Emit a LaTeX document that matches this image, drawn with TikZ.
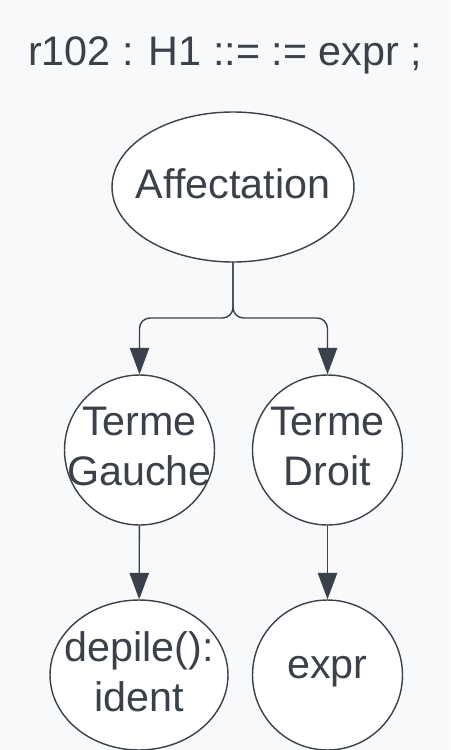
\documentclass[tikz,border=0pt]{standalone}
\usepackage{fontspec}
\setmainfont{Liberation Sans}
\usetikzlibrary{shapes.geometric,arrows.meta}
\definecolor{encre}{HTML}{3A414A}
\definecolor{fond}{HTML}{F8F9FB}
\begin{document}
\begin{tikzpicture}[x=0.02cm, y=-0.02cm, line join=round, line cap=round,
		>={Triangle[length=15pt,width=11pt]},
		every node/.style={text=encre, font=\fontsize{23.5}{28.5}\selectfont},
		texte/.style={align=center, inner sep=0pt, yshift=2pt},
		bulle/.style={circle, draw=encre, fill=white, line width=0.8pt, minimum size=3cm, inner sep=0pt, label={[texte]center:#1}},
		fleche/.style={->, draw=encre, line width=0.8pt}]
	\fill[fond] (0,0) rectangle (450,750);
	\useasboundingbox (0,0) rectangle (450,750);
	% titre de la regle
	\node[anchor=base] (titre) at (225,66) {r102 : H1 ::= := expr ;};
	% noeuds de l'arbre
	\node[bulle=Affectation, ellipse, minimum width=4.84cm, minimum height=3cm] (affect) at (233,187) {};
	\node[bulle={Terme\\Gauche}] (gauche) at (139.5,450) {};
	\node[bulle={Terme\\Droit}] (droit) at (327.5,450) {};
	\node[bulle={depile():\\ident}, ellipse, minimum width=3.56cm, minimum height=3cm] (depile) at (139,675) {};
	\node[bulle=expr] (expr) at (327.5,675) {};
	% liaisons
	\coordinate (fourche) at (233,318);
	\draw[fleche, rounded corners=6pt] (affect.south) -- (fourche) -| (gauche.north);
	\draw[fleche, rounded corners=6pt] (affect.south) -- (fourche) -| (droit.north);
	\draw[fleche] (gauche) -- (depile);
	\draw[fleche] (droit) -- (expr);
\end{tikzpicture}
\end{document}
